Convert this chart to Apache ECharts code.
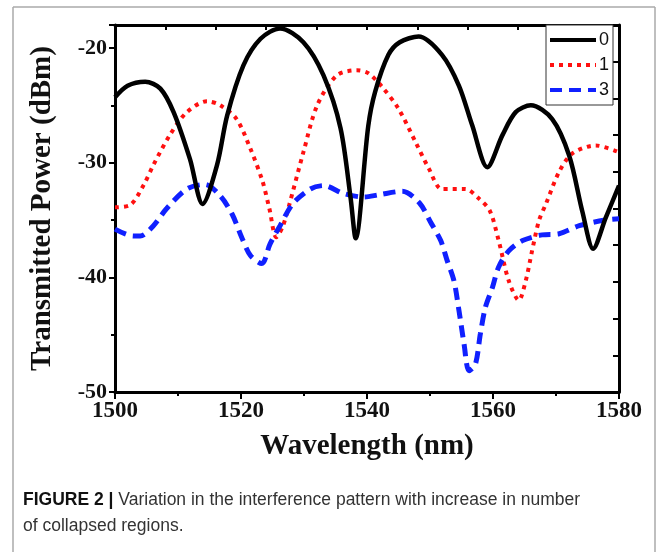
<!DOCTYPE html>
<html>
<head>
<meta charset="utf-8">
<script src="https://cdn.jsdelivr.net/npm/echarts@6/dist/echarts.min.js"></script>
<style>
  html, body { margin: 0; padding: 0; background: #fff; }
  #chart { width: 663px; height: 552px; }
</style>
</head>
<body>
<div id="chart"></div>
<script>
// curve "0" (no collapsed region)
var wl0 = [1500, 1502, 1504.8, 1507.2, 1509.3, 1511.9, 1513.9, 1516.2, 1517.8, 1520.4, 1523.1, 1526.2, 1529.9, 1533.1, 1535.8, 1537.4, 1538.2, 1540.2, 1541.3, 1543.4, 1545.2, 1548.2, 1551.9, 1554.6, 1556.7, 1559.1, 1561.5, 1563.6, 1566.0, 1569.4, 1572.1, 1574.2, 1575.9, 1577.9, 1580];
var pw0 = [-24.3, -23.3, -22.95, -23.55, -25.6, -29.7, -33.6, -30.2, -25.9, -21.5, -19.2, -18.3, -19.5, -22.4, -27.0, -33.1, -36.6, -26.8, -23.8, -20.6, -19.5, -19.0, -20.6, -23.3, -26.75, -30.4, -27.6, -25.6, -25.0, -26.2, -29.4, -34.3, -37.5, -34.8, -32.0];

// curve "1"
var wl1 = [1500, 1502.4, 1504.5, 1506.1, 1508.7, 1511.4, 1514.6, 1516.7, 1519.3, 1521.5, 1523.4, 1524.5, 1525.6, 1526.6, 1527.6, 1529.9, 1532.1, 1535.2, 1538.4, 1540.2, 1542.4, 1545.0, 1547.7, 1549.8, 1551.9, 1555.6, 1557.8, 1559.5, 1560.9, 1562.5, 1564.1, 1565.2, 1566.2, 1567.3, 1568.4, 1570.5, 1572.6, 1576.3, 1580];
var pw1 = [-33.9, -33.7, -32.0, -30.2, -27.6, -25.6, -24.65, -25.0, -26.2, -28.8, -31.6, -34.0, -36.5, -35.6, -33.8, -29.1, -25.0, -22.4, -21.95, -22.2, -23.4, -25.3, -28.2, -30.5, -32.3, -32.3, -33.15, -34.2, -36.8, -40.3, -42.0, -40.3, -37.7, -35.05, -33.6, -30.8, -29.2, -28.5, -29.1];

// curve "3"
var wl3 = [1500, 1502.9, 1504, 1506.1, 1508.2, 1511.4, 1514.3, 1516.7, 1518.6, 1520.1, 1521.5, 1523.3, 1524.6, 1526.2, 1528.2, 1531.0, 1533.1, 1536.3, 1539.5, 1541.9, 1545.6, 1548.3, 1550.1, 1551.7, 1552.7, 1553.8, 1554.6, 1555.4, 1556.2, 1557.2, 1558.0, 1558.8, 1559.9, 1560.9, 1562.5, 1564.7, 1567.8, 1570.5, 1573.7, 1577.9, 1580];
var pw3 = [-35.8, -36.4, -36.4, -35.5, -34.0, -32.3, -31.9, -32.9, -34.5, -36.5, -38.1, -38.8, -37.1, -35.5, -33.6, -32.3, -32.0, -32.7, -33.0, -32.8, -32.5, -33.5, -35.2, -36.8, -38.5, -40.3, -42.9, -45.8, -48.15, -47.6, -44.9, -42.6, -40.9, -39.1, -37.7, -36.8, -36.3, -36.2, -35.5, -35.0, -34.9];

var seriesNames = ['0', '1', '3'];
var xTicks = [1500, 1520, 1540, 1560, 1580];
var yTicks = [-50, -40, -30, -20];

function zip(xs, ys) {
    return xs.map(function (x, i) { return [x, ys[i]]; });
}

var serif = 'Liberation Serif';
var chart = echarts.init(document.getElementById('chart'));

var option = {
    backgroundColor: '#fff',
    animation: false,
    grid: { left: 115, right: 44, top: 25, bottom: 160 },
    legend: {
        orient: 'vertical',
        left: 546,
        top: 25,
        data: seriesNames,
        itemWidth: 46,
        itemHeight: 12,
        itemGap: 7,
        padding: [6, 4, 6, 2],
        borderColor: '#333',
        borderWidth: 1,
        backgroundColor: '#fff',
        itemStyle: { opacity: 0 },
        lineStyle: { width: 4 },
        textStyle: { fontFamily: 'Liberation Sans', fontSize: 18, color: '#111', padding: [0, 0, 0, -2] }
    },
    xAxis: [
        {
            type: 'value',
            position: 'bottom',
            min: xTicks[0],
            max: xTicks[xTicks.length - 1],
            interval: 20,
            axisLine: { lineStyle: { color: '#000', width: 3 } },
            axisTick: { inside: false, length: 7, lineStyle: { color: '#000', width: 2 } },
            minorTick: { show: true, splitNumber: 2, length: 4, lineStyle: { color: '#000', width: 2 } },
            axisLabel: { fontFamily: serif, fontWeight: 'bold', fontSize: 23, color: '#111', margin: 8,
                formatter: function (v) { return String(v); } },
            splitLine: { show: false },
            name: 'Wavelength (nm)',
            nameLocation: 'middle',
            nameGap: 40,
            nameTextStyle: { fontFamily: serif, fontWeight: 'bold', fontSize: 29, color: '#111' }
        },
        {
            // top frame edge, ticks every 8 nm
            type: 'value',
            position: 'top',
            min: 0,
            max: 80,
            interval: 8,
            axisLine: { lineStyle: { color: '#000', width: 3 } },
            axisTick: { inside: true, length: 5, lineStyle: { color: '#000', width: 2 } },
            axisLabel: { show: false },
            splitLine: { show: false }
        }
    ],
    yAxis: [
        {
            type: 'value',
            position: 'left',
            min: yTicks[0],
            max: -18,
            interval: 10,
            axisLine: { show: true, lineStyle: { color: '#000', width: 3 } },
            axisTick: { show: true, inside: false, length: 6, lineStyle: { color: '#000', width: 2 } },
            minorTick: { show: true, splitNumber: 2, length: 4, lineStyle: { color: '#000', width: 2 } },
            axisLabel: { fontFamily: serif, fontWeight: 'bold', fontSize: 22, color: '#111', margin: 8,
                formatter: function (v) { return yTicks.indexOf(v) >= 0 ? String(v) : ''; } },
            splitLine: { show: false },
            name: 'Transmitted Power (dBm)',
            nameLocation: 'middle',
            nameGap: 58,
            nameTextStyle: { fontFamily: serif, fontWeight: 'bold', fontSize: 29, color: '#111' }
        },
        {
            // right frame edge, ticks every 3.2 dB
            type: 'value',
            position: 'right',
            min: 0,
            max: 32,
            interval: 3.2,
            axisLine: { show: true, lineStyle: { color: '#000', width: 3 } },
            axisTick: { show: true, inside: true, length: 6, lineStyle: { color: '#000', width: 2 } },
            axisLabel: { show: false },
            splitLine: { show: false }
        }
    ],
    series: [
        {
            name: seriesNames[0],
            type: 'line',
            data: zip(wl0, pw0),
            smooth: 0.3,
            symbol: 'none',
            z: 3,
            lineStyle: { color: '#000', width: 4.5, type: 'solid' },
            itemStyle: { color: '#000' }
        },
        {
            name: seriesNames[1],
            type: 'line',
            data: zip(wl1, pw1),
            smooth: 0.3,
            symbol: 'none',
            z: 2,
            lineStyle: { color: '#ff1010', width: 4, type: [4, 5] },
            itemStyle: { color: '#ff1010' }
        },
        {
            name: seriesNames[2],
            type: 'line',
            data: zip(wl3, pw3),
            smooth: 0.3,
            symbol: 'none',
            z: 2,
            lineStyle: { color: '#1020ff', width: 5, type: [12, 7] },
            itemStyle: { color: '#1020ff' }
        }
    ],
    graphic: [
        { type: 'line', shape: { x1: 13, y1: 7, x2: 655, y2: 7 }, style: { stroke: '#aaa', lineWidth: 1.5 } },
        { type: 'line', shape: { x1: 13, y1: 7, x2: 13, y2: 552 }, style: { stroke: '#aaa', lineWidth: 1.5 } },
        { type: 'line', shape: { x1: 655, y1: 7, x2: 655, y2: 552 }, style: { stroke: '#aaa', lineWidth: 1.5 } },
        {
            type: 'text', left: 23, top: 491,
            style: {
                text: '{b|FIGURE 2 |} Variation in the interference pattern with increase in number',
                fontFamily: 'Liberation Sans', fontSize: 17.5, fill: '#333',
                rich: { b: { fontFamily: 'Liberation Sans', fontWeight: 'bold', fontSize: 17.5, fill: '#111' } }
            }
        },
        {
            type: 'text', left: 23, top: 517,
            style: { text: 'of collapsed regions.', fontFamily: 'Liberation Sans', fontSize: 17.5, fill: '#333' }
        }
    ]
};
chart.setOption(option);
</script>
</body>
</html>
